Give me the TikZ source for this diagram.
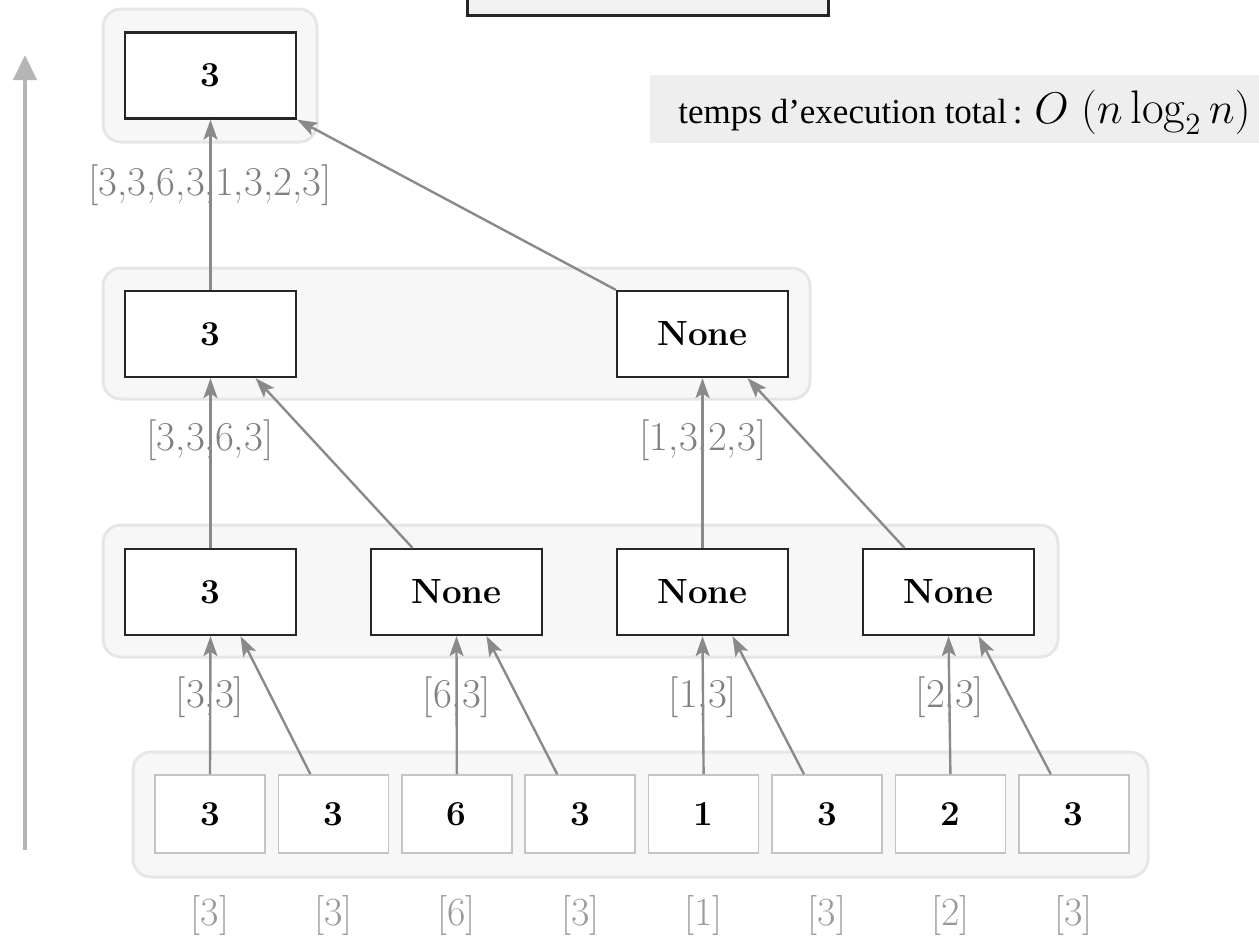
\documentclass[tikz,border=0pt]{standalone}
\usepackage{graphicx}
\usepackage{fontspec}
\newfontfamily\timesfont{Liberation Serif}
\usetikzlibrary{arrows.meta,calc}

\definecolor{grpfill}{HTML}{F7F7F7}
\definecolor{grpline}{HTML}{E6E6E6}
\definecolor{leafline}{HTML}{C4C4C4}
\definecolor{arrgray}{HTML}{8A8A8A}
\definecolor{lblgray}{HTML}{808080}
\definecolor{timefill}{HTML}{EEEEEE}
\definecolor{bigarrow}{HTML}{B5B5B5}
\definecolor{headfill}{HTML}{F2F2F2}

\begin{document}
\begin{tikzpicture}[x=0.5pt,y=-0.5pt,
  group/.style={draw=grpline, fill=grpfill, line width=1.5pt, rounded corners=9pt},
  opnode/.style={draw=black!85, fill=white, line width=1.1pt, minimum width=85.5pt,
    minimum height=43pt, inner sep=0pt, font=\fontsize{17.5}{21}\selectfont\bfseries},
  leaf/.style={draw=leafline, fill=white, line width=0.8pt, minimum width=55pt,
    minimum height=39pt, inner sep=0pt, font=\fontsize{17.5}{21}\selectfont\bfseries},
  flow/.style={draw=arrgray, line width=1.2pt, -{Stealth[length=10pt,width=7pt,inset=2.2pt]}},
  lbl/.style={text=lblgray, font=\fontsize{20.5}{24}\selectfont, inner sep=0pt},
  leaflbl/.style={text=lblgray!80, font=\fontsize{20}{24}\selectfont, inner sep=0pt}
]
\useasboundingbox (0,0) rectangle (1259,937);

% heading box, cut by the top edge of the page
\node[draw=black!85, fill=headfill, line width=1.5pt, minimum width=180.5pt,
  minimum height=25pt, inner sep=0pt] (head) at (647.5,-10) {};

% running-time banner
\fill[timefill] (650,75) rectangle (1275,143);
\node[anchor=base west, inner sep=0pt, font=\timesfont\fontsize{17.5}{21}\selectfont]
  (cost) at (678,123) {temps d’execution total\,:\hspace{6pt}{\fontsize{22}{26}\selectfont\scalebox{1.07}{$O\;(n\log_2 n)$}}};

% time axis on the left
\coordinate (axbot) at (25,850);
\coordinate (axtop) at (25,55);
\draw[bigarrow, line width=2.2pt, -{Triangle[length=12.5pt,width=11.5pt]}] (axbot) -- (axtop);

% level groups
\draw[group] (103,9) rectangle (317,142);
\draw[group] (103,268) rectangle (810,399);
\draw[group] (103,525) rectangle (1058,657);
\draw[group] (133,752) rectangle (1148,877);

% nodes
\node[opnode] (r) at (210.5,75.5) {3};
\node[opnode] (m1) at (210.5,334) {3};
\node[opnode] (m2) at (702.5,334) {None};
\node[opnode] (a1) at (210.5,592) {3};
\node[opnode] (a2) at (456.5,592) {None};
\node[opnode] (a3) at (702.5,592) {None};
\node[opnode] (a4) at (948.5,592) {None};

\foreach \v [count=\i from 0] in {3,3,6,3,1,3,2,3}{
  \node[leaf] (l\i) at (210+123.4*\i,814) {\v};
  \node[leaflbl] at (210+123.4*\i,915) {[\v]};
}

% labels under the arrows
\node[lbl] at (210,185) {[3,3,6,3,1,3,2,3]};
\node[lbl] at (210,440) {[3,3,6,3]};
\node[lbl] at (703,440) {[1,3,2,3]};
\node[lbl] at (210,697) {[3,3]};
\node[lbl] at (457,697) {[6,3]};
\node[lbl] at (703,697) {[1,3]};
\node[lbl] at (950,697) {[2,3]};

% leaves to first level
\draw[flow] (l0.north) -- (a1.south);
\draw[flow] ($(l1.north)+(-23,0)$) -- ($(a1.south)+(30,0)$);
\draw[flow] (l2.north) -- (a2.south);
\draw[flow] ($(l3.north)+(-23,0)$) -- ($(a2.south)+(30,0)$);
\draw[flow] (l4.north) -- (a3.south);
\draw[flow] ($(l5.north)+(-23,0)$) -- ($(a3.south)+(30,0)$);
\draw[flow] (l6.north) -- (a4.south);
\draw[flow] ($(l7.north)+(-23,0)$) -- ($(a4.south)+(30,0)$);

% first level to second level
\draw[flow] (a1.north) -- (m1.south);
\draw[flow] ($(a2.north)+(-44,0)$) -- ($(m1.south)+(45,0)$);
\draw[flow] (a3.north) -- (m2.south);
\draw[flow] ($(a4.north)+(-44,0)$) -- ($(m2.south)+(45,0)$);

% second level to root
\draw[flow] (m1.north) -- (r.south);
\draw[flow] (m2.north west) -- (r.south east);
\end{tikzpicture}
\end{document}
